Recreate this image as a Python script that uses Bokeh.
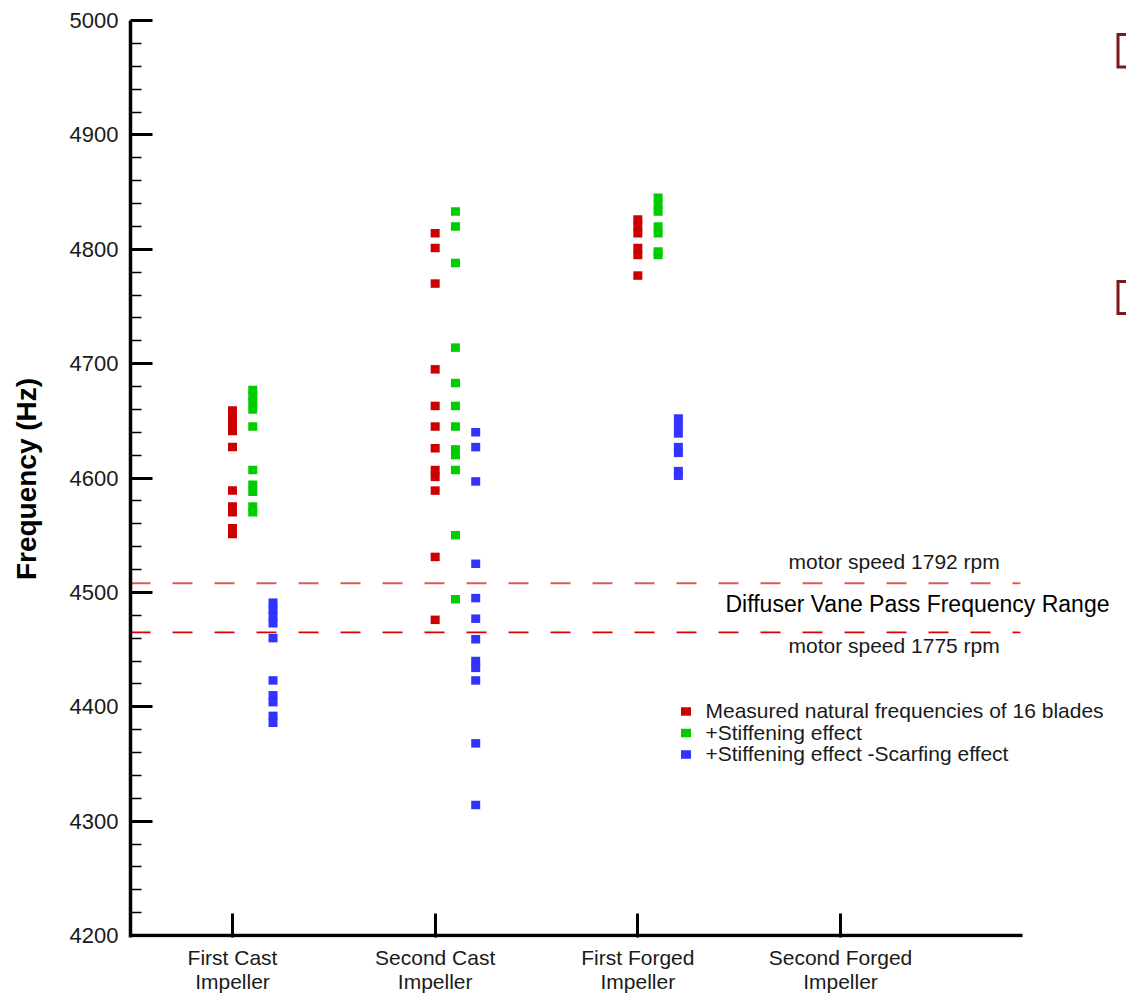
from bokeh.plotting import figure
from bokeh.models import (Range1d, FixedTicker, SingleIntervalTicker, Label,
                          PolyAnnotation, ColumnDataSource)
from bokeh.embed import file_html
from bokeh.resources import INLINE

# ---------------- data ----------------
categories = ["First Cast\nImpeller", "Second Cast\nImpeller",
              "First Forged\nImpeller", "Second Forged\nImpeller"]
series_names = ["Measured natural frequencies of 16 blades",
                "+Stiffening effect",
                "+Stiffening effect -Scarfing effect"]
series_colors = ["#cc0000", "#00cc00", "#3333ff"]

# Measured natural frequencies (Hz)
measured_first_cast = [4659, 4655, 4650, 4645, 4641, 4627, 4589, 4575, 4570, 4556, 4551]
measured_second_cast = [4814, 4801, 4770, 4695, 4663, 4645, 4626, 4607, 4601, 4589, 4531, 4476]
measured_first_forged = [4826, 4820, 4814, 4801, 4795, 4777]
measured_second_forged = []

# + Stiffening effect (Hz)
stiff_first_cast = [4677, 4672, 4666, 4660, 4645, 4607, 4594, 4588, 4575, 4570]
stiff_second_cast = [4833, 4820, 4788, 4714, 4683, 4663, 4645, 4625, 4620, 4607, 4550, 4494]
stiff_first_forged = [4845, 4839, 4833, 4820, 4814, 4798, 4795]
stiff_second_forged = []

# + Stiffening effect - Scarfing effect (Hz)
scarf_first_cast = [4491, 4485, 4479, 4473, 4460, 4423, 4410, 4404, 4392, 4386]
scarf_second_cast = [4640, 4627, 4597, 4525, 4495, 4477, 4459, 4440, 4434, 4423, 4368, 4314]
scarf_first_forged = [4652, 4646, 4639, 4627, 4622, 4606, 4602]
scarf_second_forged = []

# Diffuser vane pass frequency range
motor_speeds_rpm = [1792, 1775]
vane_pass_limits_hz = [4508, 4465]
band_title = "Diffuser Vane Pass Frequency Range"

y_ticks_start, y_ticks_end, y_tick_step = 4200, 5000, 100

# ---------------- layout constants ----------------
W, H = 1126, 994
FRAME_L, FRAME_T = 130, 20
AXIS_B = 935          # screen y of 4200
AXIS_R = 1022         # end of the drawn x axis line
PX_X = 202.67         # pixels per category step
PX_Y = (AXIS_B - FRAME_T) / (y_ticks_end - y_ticks_start)
FRAME_B = AXIS_B + 2
X0 = 1 - (232 - FRAME_L) / PX_X
X1 = X0 + (W - FRAME_L) / PX_X
Y0 = y_ticks_start - (FRAME_B - AXIS_B) / PX_Y
dodge = [0.0, 0.1, 0.2]


def sx2d(sx):
    return X0 + (sx - FRAME_L) / PX_X


def sy2d(sy):
    return y_ticks_end - (sy - FRAME_T) / PX_Y


FONT = "Liberation Sans"
TXT = "#1a1a1a"

p = figure(width=W, height=H, frame_width=W - FRAME_L, frame_height=FRAME_B - FRAME_T,
           x_range=Range1d(X0, X1), y_range=Range1d(Y0, y_ticks_end),
           output_backend="svg", toolbar_location=None,
           min_border_left=FRAME_L, min_border_right=0,
           min_border_top=FRAME_T, min_border_bottom=H - FRAME_B)
p.outline_line_color = None
p.xgrid.visible = False
p.ygrid.visible = False
p.background_fill_color = "white"
p.border_fill_color = "white"

# ---------------- band lines ----------------
band_colors = ["#e05858", "#e00000"]
band_widths = [1.8, 1.6]
for lim, col, lw in zip(vane_pass_limits_hz, band_colors, band_widths):
    p.segment(x0=X0, y0=lim, x1=sx2d(1020), y1=lim, line_color=col,
              line_width=lw, line_dash="20 22")

# ---------------- points ----------------
groups = [
    [measured_first_cast, measured_second_cast, measured_first_forged, measured_second_forged],
    [stiff_first_cast, stiff_second_cast, stiff_first_forged, stiff_second_forged],
    [scarf_first_cast, scarf_second_cast, scarf_first_forged, scarf_second_forged],
]
for s, per_cat in enumerate(groups):
    xs, ys = [], []
    for ci, vals in enumerate(per_cat):
        for v in vals:
            xs.append(ci + 1 + dodge[s])
            ys.append(v)
    src = ColumnDataSource(dict(x=xs, y=ys))
    p.rect(x="x", y="y", width=9, height=8.5, width_units="screen", height_units="screen",
           source=src, fill_color=series_colors[s], line_color=None)

# ---------------- bottom axis line (stops before the right edge) ----------------
p.segment(x0=X0, y0=y_ticks_start, x1=sx2d(AXIS_R), y1=y_ticks_start,
          line_color="black", line_width=3.5)

# ---------------- band texts ----------------
p.add_layout(Label(x=788 - FRAME_L, y=FRAME_B - 561, x_units="screen", y_units="screen",
                   text=f"motor speed {motor_speeds_rpm[0]} rpm", text_baseline="middle",
                   text_font=FONT, text_font_size="21px", text_color=TXT))
p.add_layout(Label(x=725 - FRAME_L, y=FRAME_B - 603, x_units="screen", y_units="screen",
                   text=band_title, text_baseline="middle",
                   text_font=FONT, text_font_size="23px", text_color="#000000"))
p.add_layout(Label(x=788 - FRAME_L, y=FRAME_B - 645, x_units="screen", y_units="screen",
                   text=f"motor speed {motor_speeds_rpm[1]} rpm", text_baseline="middle",
                   text_font=FONT, text_font_size="21px", text_color=TXT))

# ---------------- legend (manual) ----------------
legend_rows_sy = [711, 732.5, 754]
p.rect(x=[sx2d(685.5)] * 3, y=[sy2d(v) for v in legend_rows_sy], width=10, height=8.5,
       width_units="screen", height_units="screen", fill_color=series_colors, line_color=None)
for name, sy in zip(series_names, legend_rows_sy):
    p.add_layout(Label(x=705 - FRAME_L, y=FRAME_B - sy + 1, x_units="screen", y_units="screen",
                       text=name, text_baseline="middle", text_font=FONT,
                       text_font_size="21px", text_color=TXT))

# ---------------- partial boxes at right edge ----------------
for top, bot in [(34, 66.5), (281, 313)]:
    p.add_layout(PolyAnnotation(xs=[sx2d(1117.5), sx2d(1160), sx2d(1160), sx2d(1117.5)],
                                ys=[sy2d(top), sy2d(top), sy2d(bot), sy2d(bot)],
                                fill_alpha=0, line_color="#7b1a1a", line_alpha=1.0,
                                line_width=3, line_join="miter"))

# ---------------- axes ----------------
ya = p.yaxis[0]
ya.ticker = SingleIntervalTicker(interval=y_tick_step, num_minor_ticks=5)
ya.axis_line_width = 3.5
ya.major_tick_in = 22
ya.major_tick_out = 0
ya.major_tick_line_width = 3
ya.minor_tick_in = 11
ya.minor_tick_out = 0
ya.minor_tick_line_width = 1.5
ya.major_label_standoff = 12
ya.major_label_text_font = FONT
ya.major_label_text_font_size = "22px"
ya.major_label_text_color = TXT
ya.axis_label = "Frequency (Hz)"
ya.axis_label_text_font = FONT
ya.axis_label_text_font_style = "bold"
ya.axis_label_text_font_size = "28px"
ya.axis_label_text_color = "#000000"
ya.axis_label_standoff = 25

xa = p.xaxis[0]
xa.ticker = FixedTicker(ticks=[1, 2, 3, 4], minor_ticks=[])
xa.major_label_overrides = {i + 1: c for i, c in enumerate(categories)}
xa.axis_line_color = None
xa.major_tick_in = 24
xa.major_tick_out = 0
xa.major_tick_line_width = 3
xa.minor_tick_line_color = None
xa.major_label_standoff = 8
xa.major_label_text_font = FONT
xa.major_label_text_font_size = "21px"
xa.major_label_text_color = TXT
xa.major_label_text_line_height = 1.05

open("out.html", "w").write(file_html(p, INLINE))
